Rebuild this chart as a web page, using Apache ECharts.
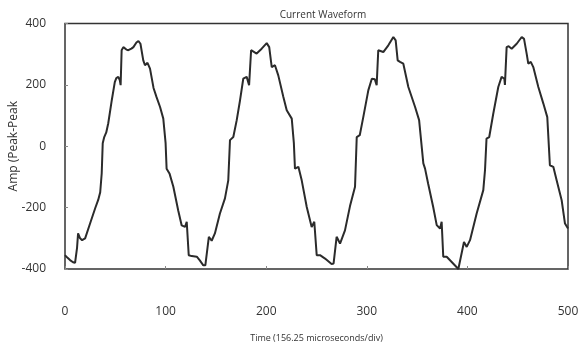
<!DOCTYPE html>
<html>
<head>
<meta charset="utf-8">
<script src="https://cdn.jsdelivr.net/npm/echarts@6/dist/echarts.min.js"></script>
<style>
  html, body { margin: 0; padding: 0; background: #fff; }
  #chart { width: 581px; height: 351px; }
</style>
</head>
<body>
<div id="chart"></div>
<script>
const timeValues = [
  0, 2, 5, 8, 10, 12, 13, 15, 17, 20, 25, 30, 33, 35, 36.5, 37.5, 39, 41, 43, 46.5,
  49.5, 51, 53, 54.5, 55.3, 56.3, 58, 61, 63, 66, 68, 71, 73, 75, 77.8, 79.5, 82, 84.5, 88, 91,
  94.5, 97.7, 100, 101, 102.7, 104, 107.7, 112.6, 116, 119.3, 121, 123, 126, 131, 134, 137.5, 139.5,
  143, 145.8, 149, 154, 159, 162.3, 164, 167.3, 170.7, 174, 177.2, 180.6, 183, 185, 190.5, 195.5,
  200.5, 203, 205.5, 208.7, 212, 217, 220.4, 225.4, 227.5, 228.6, 232, 235.3, 240.3, 245.2, 247.8,
  250.2, 253.5, 258.5, 265, 267, 270, 273.4, 278.3, 283.3, 288.3, 290, 293, 296.5, 301.5, 305, 308,
  309.8, 311.4, 316.4, 321.4, 326.4, 328.7, 330.7, 333, 336.3, 341.3, 348, 352, 356.2, 357.9, 361,
  366, 369.5, 372.8, 374.4, 376, 379.4, 384.4, 391, 392.5, 396.6, 399.3, 402.6, 409.2, 415.8, 417.5,
  419, 421.7, 425.7, 430.7, 434, 436.7, 437.3, 439, 441, 444, 449, 454, 456.3, 458.9, 460.5, 463,
  465.5, 470.5, 475.5, 479.4, 482, 485.4, 488.7, 493.7, 497, 500
];
const ampValues = [
  -355, -362, -371, -378, -380, -330, -284, -300, -306, -300, -251, -202, -175, -150, -88, 10, 30, 45, 75, 150,
  209, 222, 226, 215, 199, 313, 323, 315, 313, 318, 323, 338, 343, 334, 280, 264, 272, 253, 190, 160,
  128, 90, 10, -73, -70, -90, -132, -210, -258, -263, -246, -355, -358, -360, -372, -388, -388,
  -295, -308, -284, -219, -170, -111, 20, 30, 85, 150, 220, 226, 199, 313, 302, 318,
  336, 323, 258, 264, 231, 161, 117, 90, 10, -73, -67, -111, -198, -263, -246,
  -355, -355, -366, -384, -382, -295, -317, -274, -195, -132, 30, 36, 95, 182, 220, 218,
  199, 313, 307, 329, 356, 345, 280, 275, 269, 193, 128, 85, -56, -73, -122,
  -198, -257, -268, -246, -360, -360, -377, -400, -398, -312, -328, -306, -219, -143, -78,
  25, 30, 106, 193, 226, 220, 200, 323, 326, 318, 334, 356, 350, 302, 269, 275,
  258, 193, 139, 95, -62, -67, -111, -176, -252, -268
];
const xTicks = [0, 100, 200, 300, 400, 500];
const yTicks = [-400, -200, 0, 200, 400];

const chart = echarts.init(document.getElementById('chart'));

const textColor = '#333';
const fontFamily = 'Open Sans, DejaVu Sans, sans-serif';

const option = {
  animation: false,
  backgroundColor: '#fff',
  title: {
    text: 'Current Waveform',
    left: 318,
    top: 5,
    textAlign: 'center',
    textStyle: { fontSize: 10, fontWeight: 'normal', color: textColor, fontFamily: fontFamily }
  },
  grid: {
    left: 65,
    right: 13,
    top: 23.5,
    bottom: 82,
    outerBoundsMode: 'none',
    containLabel: false,
    show: true,
    borderColor: '#333',
    borderWidth: 1.5,
    backgroundColor: '#fff'
  },
  xAxis: {
    type: 'value',
    min: xTicks[0],
    max: xTicks[xTicks.length - 1],
    interval: 100,
    name: 'Time (156.25 microseconds/div)',
    nameLocation: 'middle',
    nameGap: 65,
    nameMoveOverlap: false,
    nameTextStyle: { fontSize: 9, color: textColor, fontFamily: fontFamily },
    axisLine: { show: false, onZero: false },
    axisTick: { show: true, inside: true, length: 3, lineStyle: { color: '#888' } },
    splitLine: { show: false },
    axisLabel: { margin: 37, fontSize: 12, color: textColor, fontFamily: fontFamily }
  },
  yAxis: {
    type: 'value',
    min: yTicks[0],
    max: yTicks[yTicks.length - 1],
    interval: 200,
    name: 'Amp (Peak-Peak',
    nameLocation: 'middle',
    nameGap: 45,
    nameRotate: 90,
    nameMoveOverlap: false,
    nameTextStyle: { fontSize: 12, color: textColor, fontFamily: fontFamily },
    axisLine: { show: false, onZero: false },
    axisTick: { show: true, inside: true, length: 3, lineStyle: { color: '#888' } },
    splitLine: { show: false },
    axisLabel: { margin: 19, fontSize: 12, color: textColor, fontFamily: fontFamily }
  },
  series: [
    {
      type: 'line',
      data: timeValues.map((t, i) => [t, ampValues[i]]),
      showSymbol: false,
      smooth: false,
      clip: true,
      lineStyle: { color: '#2b2b2b', width: 2 }
    }
  ]
};

chart.setOption(option);
</script>
</body>
</html>
